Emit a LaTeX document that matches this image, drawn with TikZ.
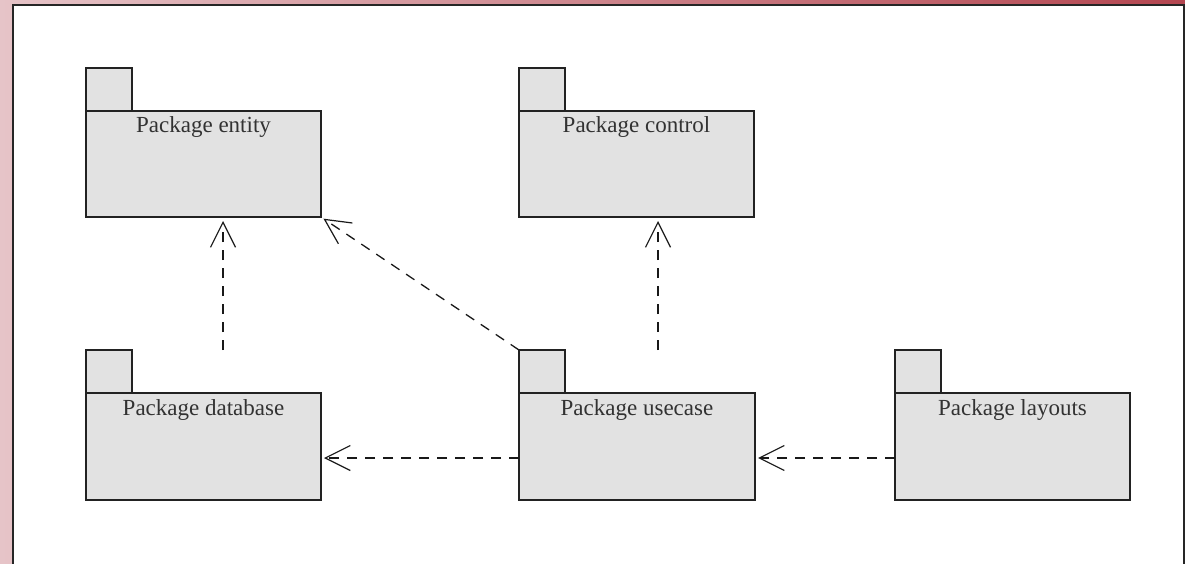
\documentclass[tikz,border=0pt]{standalone}
\usepackage{fontspec}
\setmainfont{Liberation Serif}
\usetikzlibrary{arrows.meta,calc}
\definecolor{bgpink}{RGB}{230,196,200}
\definecolor{bgred}{RGB}{180,70,80}
\definecolor{pkgfill}{RGB}{226,226,226}
\definecolor{pkgline}{RGB}{34,34,34}
\definecolor{pkgtext}{RGB}{50,50,50}
\tikzset{
  pkgbody/.style={draw=pkgline, fill=pkgfill, line width=1.3pt, minimum width=235pt, minimum height=106pt, inner sep=0pt, outer sep=0pt},
  pkgtab/.style={draw=pkgline, fill=pkgfill, line width=1.3pt, minimum width=46pt, minimum height=43pt, inner sep=0pt, outer sep=0pt, anchor=south west},
  pkglabel/.style={anchor=base, text=pkgtext, font=\fontsize{23}{27}\selectfont, inner sep=0pt},
  dep/.style={draw=black!90, line width=1.3pt, dash pattern=on 10pt off 8pt, -{Straight Barb[length=25pt,width=25pt,line width=1.2pt]}},
}
\begin{document}
\begin{tikzpicture}[x=1pt,y=-1pt]
\useasboundingbox (0,0) rectangle (1185,564);
\clip (0,0) rectangle (1185,564);
\shade[left color=bgpink, right color=bgred] (0,0) rectangle (1185,564);
\fill[white] (13,5) rectangle (1184,600);
\draw[line width=2pt, black!85] (13,600) -- (13,5) -- (1184,5) -- (1184,600);

% packages
\node[pkgbody] (entity) at (203.5,164) {};
\node[pkgtab] (entity-tab) at (entity.north west) {};
\node[pkglabel] (entity-lbl) at ($(entity.north)+(0,22)$) {Package entity};

\node[pkgbody] (control) at (636.5,164) {};
\node[pkgtab] (control-tab) at (control.north west) {};
\node[pkglabel] (control-lbl) at ($(control.north)+(0,22)$) {Package control};

\node[pkgbody, minimum height=107pt] (database) at (203.5,446.5) {};
\node[pkgtab] (database-tab) at (database.north west) {};
\node[pkglabel] (database-lbl) at ($(database.north)+(0,22)$) {Package database};

\node[pkgbody, minimum height=107pt, minimum width=236pt] (usecase) at (637,446.5) {};
\node[pkgtab] (usecase-tab) at (usecase.north west) {};
\node[pkglabel] (usecase-lbl) at ($(usecase.north)+(0,22)$) {Package usecase};

\node[pkgbody, minimum height=107pt] (layouts) at (1012.5,446.5) {};
\node[pkgtab] (layouts-tab) at (layouts.north west) {};
\node[pkglabel] (layouts-lbl) at ($(layouts.north)+(0,22)$) {Package layouts};

% dependencies
\draw[dep, shorten >=4pt] ([xshift=19.5pt]database.north |- database-tab.north) -- ([xshift=19.5pt]entity.south);
\draw[dep, shorten >=3pt] (usecase-tab.north west) -- (entity.south east);
\draw[dep, shorten >=4pt] ([xshift=21pt]usecase.north |- usecase-tab.north) -- ([xshift=21.5pt]control.south);
\draw[dep, shorten >=3pt] ([yshift=-11.5pt]usecase.west) -- ([yshift=-11.5pt]database.east);
\draw[dep, shorten >=3pt] ([yshift=-11.5pt]layouts.west) -- ([yshift=-11.5pt]usecase.east);
\end{tikzpicture}
\end{document}
